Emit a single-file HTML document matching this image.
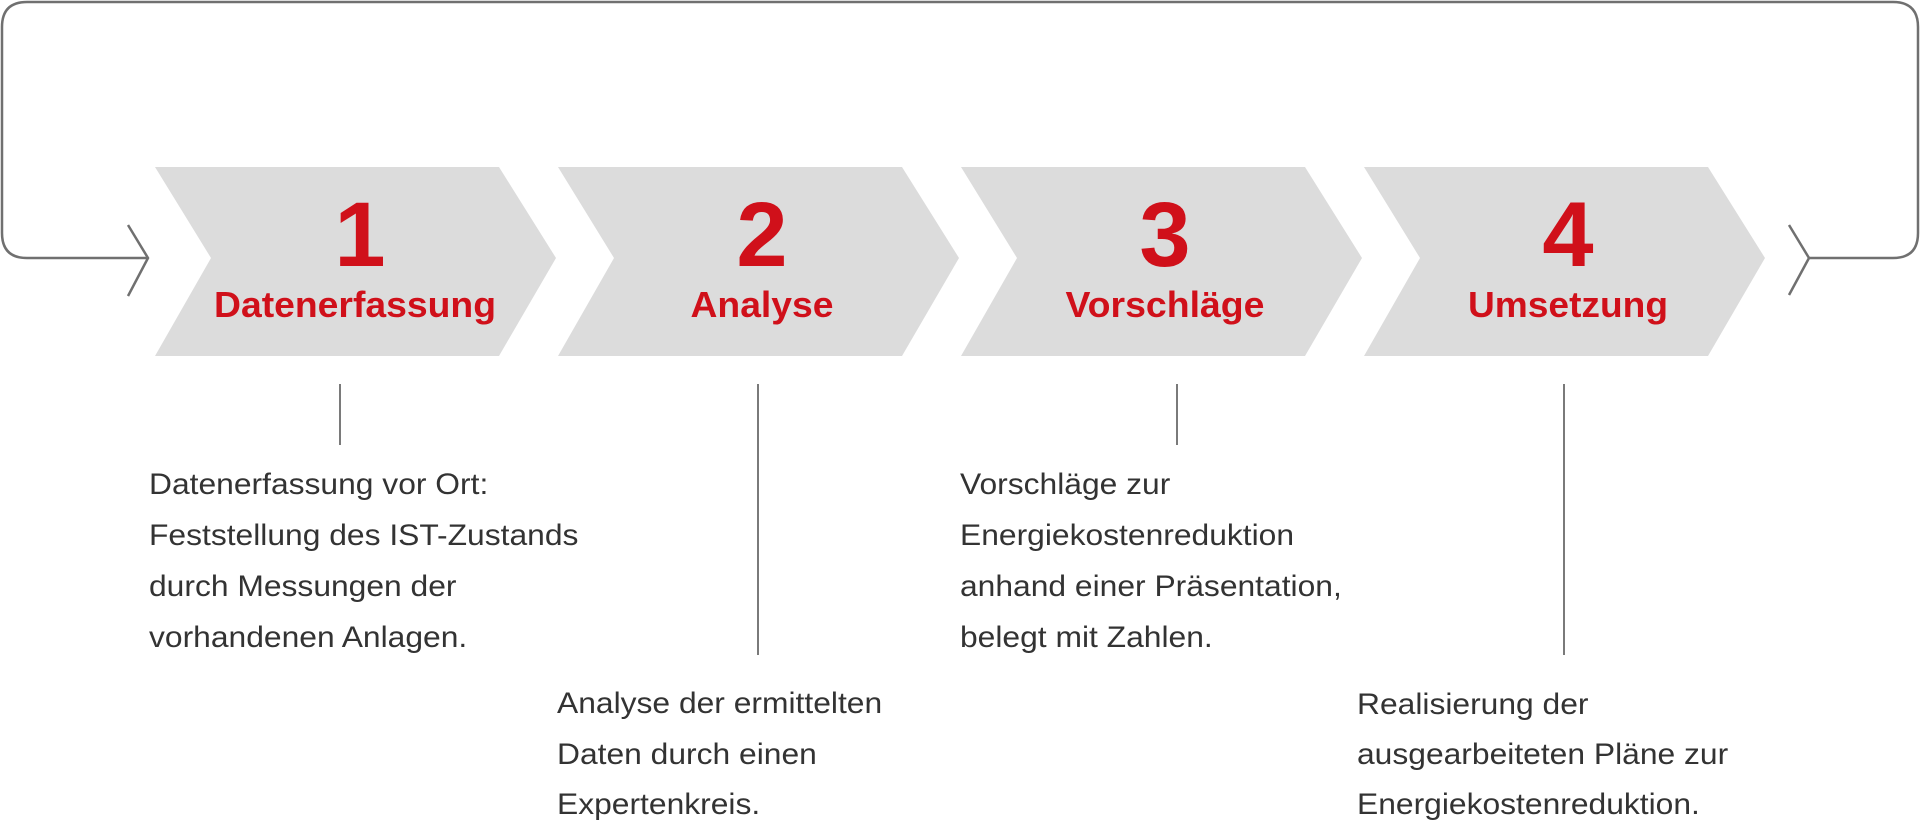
<!DOCTYPE html>
<html><head><meta charset="utf-8"><style>
html,body{margin:0;padding:0;background:#fff;}
svg{display:block;}
</style></head><body>
<svg width="1920" height="822" viewBox="0 0 1920 822" xmlns="http://www.w3.org/2000/svg">
<g fill="#dcdcdc">
<polygon points="155,167 499,167 556,258 499,356 155,356 211,258"/>
<polygon points="558,167 902,167 959,258 902,356 558,356 614,258"/>
<polygon points="961,167 1305,167 1362,258 1305,356 961,356 1017,258"/>
<polygon points="1364,167 1708,167 1765,258 1708,356 1364,356 1420,258"/>
</g>
<g fill="none" stroke="#707070" stroke-width="2.5">
<path d="M148,258 L27,258 Q2,258 2,233 L2,27 Q2,2 27,2 L1893,2 Q1918,2 1918,27 L1918,233 Q1918,258 1893,258 L1809,258"/>
<polyline points="128,225 148,258 128,296"/>
<polyline points="1789,225 1809,258 1789,295"/>
</g>
<g stroke="#7a7a7a" stroke-width="2">
<line x1="340" y1="384" x2="340" y2="445"/>
<line x1="758" y1="384" x2="758" y2="655"/>
<line x1="1177" y1="384" x2="1177" y2="445"/>
<line x1="1564" y1="384" x2="1564" y2="655"/>
</g>
<g fill="#d0101a" font-family="Liberation Sans, Arial, sans-serif" font-weight="bold" text-anchor="middle">
<text x="360" y="266" font-size="92">1</text>
<text x="762" y="266" font-size="92">2</text>
<text x="1165" y="266" font-size="92">3</text>
<text x="1568" y="266" font-size="92">4</text>
<text x="355" y="317" font-size="36" textLength="282" lengthAdjust="spacingAndGlyphs">Datenerfassung</text>
<text x="762" y="317" font-size="36" textLength="143" lengthAdjust="spacingAndGlyphs">Analyse</text>
<text x="1165" y="317" font-size="36" textLength="199" lengthAdjust="spacingAndGlyphs">Vorschläge</text>
<text x="1568" y="317" font-size="36" textLength="200" lengthAdjust="spacingAndGlyphs">Umsetzung</text>
</g>
<g fill="#333" font-family="Liberation Sans, Arial, sans-serif" font-size="30">
<g transform="translate(149,0) scale(1.06,1)">
<text x="0" y="494">Datenerfassung vor Ort:</text>
<text x="0" y="545">Feststellung des IST-Zustands</text>
<text x="0" y="596">durch Messungen der</text>
<text x="0" y="647">vorhandenen Anlagen.</text>
</g>
<g transform="translate(557,0) scale(1.06,1)">
<text x="0" y="713">Analyse der ermittelten</text>
<text x="0" y="764">Daten durch einen</text>
<text x="0" y="814">Expertenkreis.</text>
</g>
<g transform="translate(960,0) scale(1.06,1)">
<text x="0" y="494">Vorschläge zur</text>
<text x="0" y="545">Energiekostenreduktion</text>
<text x="0" y="596">anhand einer Präsentation,</text>
<text x="0" y="647">belegt mit Zahlen.</text>
</g>
<g transform="translate(1357,0) scale(1.06,1)">
<text x="0" y="714">Realisierung der</text>
<text x="0" y="764">ausgearbeiteten Pläne zur</text>
<text x="0" y="814">Energiekostenreduktion.</text>
</g>
</g>
</svg>
</body></html>
